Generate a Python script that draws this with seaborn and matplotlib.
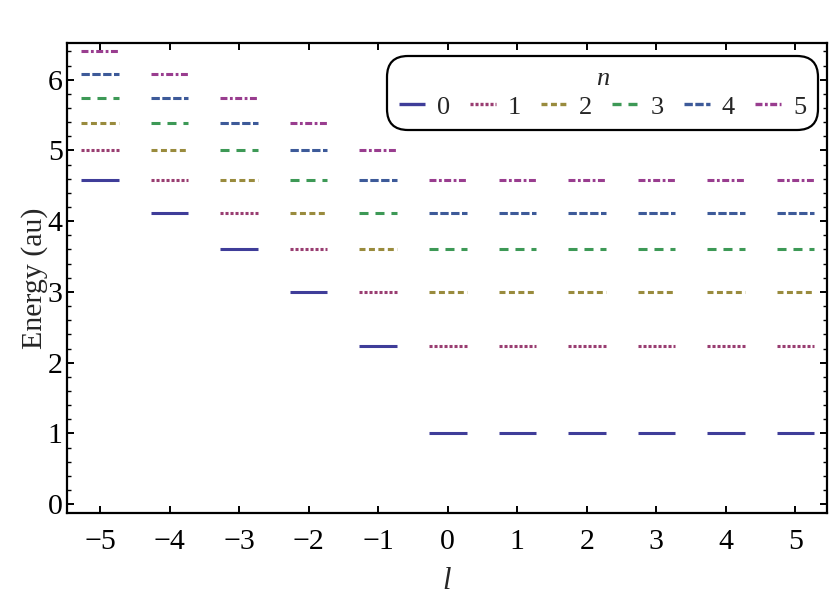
import numpy as np
import pandas as pd
import matplotlib
matplotlib.use('Agg')
import matplotlib.pyplot as plt
from matplotlib.ticker import MultipleLocator
import seaborn as sns

# Data: energy levels for each l and radial number n
l_values = [-5, -4, -3, -2, -1, 0, 1, 2, 3, 4, 5]
E_n0 = [4.58, 4.12, 3.61, 3.00, 2.24, 1.00, 1.00, 1.00, 1.00, 1.00, 1.00]
E_n1 = [5.00, 4.58, 4.12, 3.61, 3.00, 2.24, 2.24, 2.24, 2.24, 2.24, 2.24]
E_n2 = [5.39, 5.00, 4.58, 4.12, 3.61, 3.00, 3.00, 3.00, 3.00, 3.00, 3.00]
E_n3 = [5.74, 5.39, 5.00, 4.58, 4.12, 3.61, 3.61, 3.61, 3.61, 3.61, 3.61]
E_n4 = [6.08, 5.74, 5.39, 5.00, 4.58, 4.12, 4.12, 4.12, 4.12, 4.12, 4.12]
E_n5 = [6.40, 6.08, 5.74, 5.39, 5.00, 4.58, 4.58, 4.58, 4.58, 4.58, 4.58]
n_labels = ['0', '1', '2', '3', '4', '5']

# Mathematica-style colours and dash patterns
colors = ['#3f3d99', '#993d71', '#998b3d', '#3d9956', '#3d5a99', '#993d8f']
dashes = ['', (2.2, 1.4), (4.3, 2.5), (6.5, 5.0), (6.0, 1.8), (5.0, 1.8, 2.0, 1.8)]

half_width = 0.27

# build a long table: each level is one short horizontal segment
rows = []
seg = 0
for n, E in zip(n_labels, [E_n0, E_n1, E_n2, E_n3, E_n4, E_n5]):
    for l, e in zip(l_values, E):
        rows.append({'x': l - half_width, 'E': e, 'n': n, 'seg': seg})
        rows.append({'x': l + half_width, 'E': e, 'n': n, 'seg': seg})
        seg += 1
df = pd.DataFrame(rows)

sns.set_theme(style='ticks')
plt.rcParams['font.family'] = ['Liberation Serif', 'DejaVu Serif']
plt.rcParams['lines.scale_dashes'] = False
plt.rcParams['lines.solid_capstyle'] = 'butt'
plt.rcParams['lines.dash_capstyle'] = 'butt'

fig = plt.figure(figsize=(8.3, 6.04), dpi=100)
ax = fig.add_axes([0.0804, 0.150, 0.9156, 0.779])

sns.lineplot(data=df, x='x', y='E', hue='n', style='n', units='seg',
             estimator=None, palette=colors, dashes=dashes,
             linewidth=2.2, ax=ax, sort=False)

ax.set_xlim(-5.48, 5.45)
ax.set_ylim(-0.13, 6.52)
ax.set_xticks(l_values)
ax.set_xticklabels([str(v).replace('-', '\u2212') for v in l_values])
ax.set_yticks(range(0, 7))
ax.yaxis.set_minor_locator(MultipleLocator(0.2))

for sp in ax.spines.values():
    sp.set_linewidth(1.6)
    sp.set_color('black')
    sp.set_visible(True)

ax.tick_params(which='major', direction='in', length=5, width=1.4,
               top=True, right=True, labelsize=21.5, colors='black', pad=8)
ax.tick_params(axis='y', which='major', pad=3)
ax.tick_params(axis='x', which='major', pad=11)
ax.tick_params(which='minor', direction='in', length=3, width=1.0,
               left=True, right=True, colors='black')

ax.set_xlabel('l', fontsize=22, fontstyle='italic', labelpad=9)
ax.set_ylabel('Energy (au)', fontsize=21.5, labelpad=0)

sns.move_legend(ax, 'upper right', bbox_to_anchor=(0.999, 0.989),
                ncol=6, title='n', fontsize=19, title_fontsize=19,
                frameon=True, handlelength=1.0, handletextpad=0.45,
                columnspacing=0.75, borderpad=0.25, labelspacing=0.2,
                fancybox=True)
leg = ax.get_legend()
leg.get_title().set_fontstyle('italic')
frame = leg.get_frame()
frame.set_edgecolor('black')
frame.set_linewidth(1.6)
frame.set_facecolor('white')
frame.set_alpha(1.0)
frame.set_boxstyle('round,pad=0.2,rounding_size=0.8')
for h in leg.get_lines():
    h.set_linewidth(2.4)

fig.savefig('out.png', dpi=100)
